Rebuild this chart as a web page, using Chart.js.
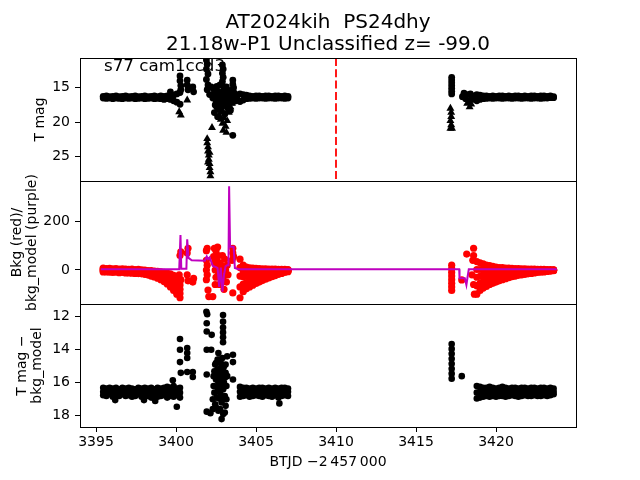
<!DOCTYPE html>
<html>
<head>
<meta charset="utf-8">
<script src="https://cdn.jsdelivr.net/npm/chart.js@4"></script>
<style>
  html, body { margin: 0; padding: 0; background: #fff; overflow: hidden; }
  #wrap { position: relative; width: 640px; height: 480px; }
  canvas { position: absolute; left: 0; top: 0; }
  .txt { position: absolute; font-family: "DejaVu Sans"; line-height: normal; white-space: pre; color: #000; }
  .ttl { font-size: 20px; }
  .ann { font-size: 16.7px; }
</style>
</head>
<body>
<div id="wrap">
  <canvas id="cTop" width="640" height="480"></canvas>
  <canvas id="cMid" width="640" height="480"></canvas>
  <canvas id="cBot" width="640" height="480"></canvas>
  <div class="txt ttl" style="left:328px; top:8.5px; transform:translateX(-50%)">AT2024kih  PS24dhy</div>
  <div class="txt ttl" style="left:328px; top:30.5px; transform:translateX(-50%)">21.18w-P1 Unclassified z= -99.0</div>
  <div class="txt ann" style="left:104px; top:55px">s77 cam1ccd3</div>
</div>
<script>
// axes
const timeMin = 3394, timeMax = 3425;
const timeTicks = [3395, 3400, 3405, 3410, 3415, 3420];
const tmagMin = 10.7, tmagMax = 28.52;
const tmagTicks = [15, 20, 25];
const bkgMin = -140.8, bkgMax = 368.5;
const bkgTicks = [0, 200];
const diffMin = 11.23, diffMax = 18.68;
const diffTicks = [12, 14, 16, 18];
const vlineX = 3410;

// sampling times of the three dense stretches
const timeA = [3395.45, 3395.65, 3395.85, 3396.05, 3396.25, 3396.45, 3396.65, 3396.85, 3397.05, 3397.25, 3397.45, 3397.65, 3397.85, 3398.05, 3398.25, 3398.45, 3398.65, 3398.85, 3399.05, 3399.25, 3399.45, 3399.65, 3399.85, 3400.05, 3400.25];
const timeB = [3404.0, 3404.2, 3404.4, 3404.6, 3404.8, 3405.0, 3405.2, 3405.4, 3405.6, 3405.8, 3406.0, 3406.2, 3406.4, 3406.6, 3406.8, 3407.0];
const timeC = [3418.8, 3419.0, 3419.2, 3419.4, 3419.6, 3419.8, 3420.0, 3420.2, 3420.4, 3420.6, 3420.8, 3421.0, 3421.2, 3421.4, 3421.6, 3421.8, 3422.0, 3422.2, 3422.4, 3422.6, 3422.8, 3423.0, 3423.2, 3423.4, 3423.6];

// T mag (top panel)
const tmagA_hi = [16.25, 16.2, 16.3, 16.25, 16.2, 16.3, 16.25, 16.2, 16.3, 16.25, 16.2, 16.3, 16.25, 16.2, 16.3, 16.25, 16.2, 16.3, 16.2, 16.25, 16.2, 16.3, 16.1, 15.9, 15.7];
const tmagA_lo = [16.5, 16.55, 16.5, 16.6, 16.5, 16.55, 16.6, 16.5, 16.55, 16.5, 16.6, 16.55, 16.5, 16.6, 16.55, 16.5, 16.6, 16.55, 16.6, 16.7, 16.6, 16.7, 16.9, 17.1, 17.4];
const tmagB_hi = [15.9, 16.0, 16.1, 16.2, 16.25, 16.2, 16.2, 16.25, 16.2, 16.2, 16.25, 16.2, 16.2, 16.25, 16.2, 16.25];
const tmagB_lo = [17.0, 16.8, 16.6, 16.55, 16.5, 16.55, 16.5, 16.5, 16.55, 16.5, 16.5, 16.55, 16.5, 16.5, 16.55, 16.5];
const tmagC_hi = [16.0, 16.1, 16.2, 16.2, 16.25, 16.2, 16.25, 16.2, 16.2, 16.25, 16.2, 16.25, 16.2, 16.2, 16.25, 16.2, 16.25, 16.2, 16.2, 16.25, 16.2, 16.2, 16.25, 16.2, 16.3];
const tmagC_lo = [16.9, 16.7, 16.6, 16.55, 16.5, 16.55, 16.5, 16.5, 16.55, 16.5, 16.5, 16.55, 16.5, 16.5, 16.55, 16.5, 16.5, 16.55, 16.5, 16.5, 16.55, 16.5, 16.5, 16.45, 16.45];
const tmagDots = [[3400.25,13.3],[3400.25,14.0],[3400.3,14.7],[3400.3,15.3],[3400.7,13.9],[3400.7,14.6],[3400.75,15.3],[3401.05,14.9],[3401.1,15.6],
  [3401.9,11.0],[3401.95,11.6],[3401.9,12.3],[3402.0,13.0],[3401.9,13.8],[3402.0,14.6],[3401.95,15.3],[3402.1,16.0],[3402.2,14.9],
  [3402.9,11.7],[3402.95,12.3],[3402.9,12.9],[3402.95,13.5],[3402.9,14.1],[3402.95,14.8],[3403.55,13.9],[3403.55,14.5],[3403.6,15.0],[3403.55,21.9],
  [3402.3,16.5],[3402.4,15.8],[3402.5,16.8],[3402.6,15.5],[3402.7,16.2],[3402.8,17.0],[3402.9,15.6],[3403.0,16.4],[3403.1,17.2],[3403.2,15.9],
  [3403.3,16.6],[3403.4,15.4],[3403.5,16.2],[3403.6,16.8],[3403.7,16.3],[3403.8,16.5],[3402.45,17.5],[3402.65,18.0],[3402.85,18.4],[3403.05,18.8],
  [3403.25,18.0],[3402.55,14.8],[3402.75,14.6],[3403.15,14.9],[3399.65,15.6],
  [3402.35,15.2],[3402.45,16.2],[3402.55,17.8],[3402.65,16.9],[3402.75,15.8],[3402.85,16.2],[3402.95,17.6],[3403.05,15.6],[3403.15,16.3],
  [3403.25,17.2],[3403.35,15.9],[3403.45,16.8],[3403.55,17.1],[3403.65,15.8],[3403.75,16.9],[3402.4,18.6],[3402.6,19.2],[3402.8,17.8],
  [3403.0,17.5],[3403.2,17.0],[3403.4,18.3],
  [3417.23,13.5],[3417.23,13.9],[3417.23,14.3],[3417.23,14.7],[3417.23,15.1],[3417.23,15.5],[3417.23,15.9],
  [3417.9,16.3],[3418.0,15.8],[3418.1,16.6],[3418.2,16.0],[3418.3,16.9],[3418.4,15.9],[3418.5,16.4],[3418.6,16.2],[3418.6,16.7]];
const tmagLimits = [[3400.2,18.5],[3400.3,19.0],[3400.7,16.8],[3402.25,20.8],[3401.95,22.4],[3401.95,23.0],[3402.0,23.6],[3402.0,24.2],
  [3402.05,24.8],[3402.05,25.4],[3402.1,26.0],[3402.1,26.6],[3402.15,27.2],[3402.15,27.8],[3402.0,25.8],[3402.1,24.4],
  [3402.5,17.2],[3402.6,18.3],[3402.7,19.0],[3402.8,19.6],[3402.9,20.2],[3403.0,19.4],[3403.1,20.6],[3403.2,19.8],[3403.3,18.6],
  [3403.4,17.8],[3403.5,17.3],[3402.95,21.2],[3403.15,21.5],
  [3417.15,18.0],[3417.2,18.6],[3417.2,19.2],[3417.15,19.8],[3417.2,20.4],[3417.15,20.9],[3417.25,20.9],[3418.2,17.3],[3418.35,17.8],[3418.45,17.4]];

// Bkg (middle panel, red) and bkg_model (purple)
const bkgA_hi = [8, 6, 7, 5, 6, 4, 5, 4, 3, 4, 2, 3, 1, 0, -2, -3, -5, -6, -8, -10, -13, -16, -22, -30, -45];
const bkgA_q1 = [4, 3, 3, 2, 2, 1, 1, 0, 0, -1, -2, -2, -3, -4, -6, -8, -10, -12, -15, -19, -23, -29, -37, -47, -62];
const bkgA_mid = [0, -1, 0, -2, -1, -3, -2, -4, -4, -5, -6, -6, -7, -8, -10, -13, -16, -19, -23, -28, -34, -42, -52, -65, -80];
const bkgA_q3 = [-4, -5, -4, -6, -5, -7, -6, -8, -8, -9, -10, -10, -11, -13, -15, -19, -22, -26, -31, -38, -46, -56, -68, -82, -97];
const bkgA_lo = [-8, -8, -9, -10, -9, -11, -10, -12, -12, -13, -14, -15, -16, -18, -21, -25, -29, -34, -40, -48, -58, -70, -85, -100, -115];
const bkgB_hi = [45, 20, 12, 9, 8, 7, 6, 5, 5, 4, 4, 4, 3, 3, 3, 2];
const bkgB_q1 = [10, -4, -7, -7, -6, -5, -5, -4, -3, -3, -2, -1, -1, 0, 0, 0];
const bkgB_mid = [-25, -28, -26, -24, -21, -18, -16, -14, -12, -10, -8, -6, -5, -4, -3, -2];
const bkgB_q3 = [-70, -58, -52, -47, -42, -37, -33, -29, -25, -21, -18, -14, -11, -9, -6, -4];
const bkgB_lo = [-115, -90, -78, -70, -63, -56, -50, -44, -38, -33, -28, -23, -18, -14, -10, -7];
const bkgC_hi = [35, 30, 25, 20, 18, 15, 12, 10, 10, 8, 8, 7, 6, 6, 5, 5, 4, 4, 4, 3, 3, 3, 2, 2, 1];
const bkgC_q1 = [2, 2, 1, 0, 0, 0, -1, -1, 0, 0, 0, 0, 0, 0, 0, 0, 0, 0, 0, 0, 0, 0, 0, 0, 0];
const bkgC_mid = [-30, -26, -22, -20, -18, -15, -13, -12, -10, -9, -8, -7, -6, -5, -5, -4, -4, -3, -3, -2, -2, -2, -1, -1, 0];
const bkgC_q3 = [-65, -55, -48, -44, -39, -35, -31, -28, -25, -22, -20, -17, -15, -13, -12, -11, -10, -8, -7, -6, -5, -5, -3, -3, -1];
const bkgC_lo = [-100, -85, -75, -68, -60, -55, -50, -45, -40, -36, -32, -28, -25, -22, -20, -18, -16, -14, -12, -10, -9, -8, -6, -5, -3];
const bkgDots = [[3400.25,60],[3400.3,75],[3400.2,-20],[3400.3,-40],[3400.7,70],[3400.75,90],[3400.7,-20],[3400.75,-45],[3401.05,-50],[3401.1,-35],
  [3401.9,80],[3401.95,90],[3401.9,40],[3401.95,20],[3401.9,0],[3401.95,-20],[3401.9,-40],[3402.0,-83],[3402.05,-110],[3402.3,-110],
  [3402.4,90],[3402.5,80],[3402.6,95],[3402.35,55],[3402.4,30],[3402.45,0],[3402.5,-30],[3402.55,40],[3402.6,10],[3402.65,-20],
  [3402.7,-60],[3402.75,30],[3402.8,-5],[3402.85,-45],[3402.9,60],[3402.9,15],[3402.95,-30],[3403.0,-80],[3403.05,45],[3403.1,0],
  [3403.15,-50],[3403.2,20],[3403.25,-20],[3402.45,-60],[3402.65,60],[3403.5,40],[3403.55,70],[3403.55,90],[3403.6,55],[3403.55,-95],
  [3417.23,20],[3417.23,5],[3417.23,-10],[3417.23,-25],[3417.23,-40],[3417.23,-55],[3417.23,-70],[3417.23,-85],[3417.86,-41],[3418.17,66],
  [3418.6,60],[3418.6,90],[3418.55,40],[3418.6,-60],[3418.65,-100],[3418.5,-20]];
const bkgModelT = [3395.3, 3400.2, 3400.28, 3400.33, 3400.65, 3400.7, 3400.78, 3400.98, 3401.8, 3401.92, 3402.0, 3402.1, 3402.2, 3402.3, 3402.5, 3402.6, 3402.7, 3402.8, 3402.9, 3403.0, 3403.1, 3403.2, 3403.28, 3403.32, 3403.38, 3403.6, 3403.68, 3403.9, 3417.7, 3417.72, 3418.05, 3418.15, 3418.22, 3418.3, 3423.8];
const bkgModelV = [3, 3, 145, 5, 5, 127, 50, 40, 38, 56, 45, 52, 35, 17, 12, 8, -70, 10, -90, -20, 15, 20, 20, 347, 96, 96, 8, 3, 3, -34, -34, -62, -30, 3, 3];

// T mag - bkg_model (bottom panel)
const diffA_hi = [16.3, 16.35, 16.3, 16.35, 16.3, 16.4, 16.3, 16.35, 16.3, 16.35, 16.4, 16.3, 16.35, 16.3, 16.35, 16.3, 16.4, 16.3, 16.35, 16.3, 16.25, 16.3, 16.2, 16.35, 16.3];
const diffA_mid = [16.55, 16.6, 16.5, 16.6, 16.55, 16.6, 16.5, 16.55, 16.55, 16.6, 16.6, 16.5, 16.6, 16.55, 16.55, 16.6, 16.55, 16.6, 16.55, 16.5, 16.6, 16.55, 16.5, 16.55, 16.6];
const diffA_lo = [16.75, 16.8, 16.7, 16.85, 16.75, 16.8, 16.7, 16.8, 16.75, 16.85, 16.8, 16.7, 16.85, 16.75, 16.8, 16.9, 16.75, 16.85, 16.8, 16.75, 16.9, 16.8, 16.85, 16.75, 16.9];
const diffB_hi = [16.25, 16.3, 16.3, 16.35, 16.3, 16.35, 16.3, 16.3, 16.35, 16.3, 16.35, 16.3, 16.35, 16.3, 16.3, 16.35];
const diffB_mid = [16.55, 16.55, 16.5, 16.6, 16.55, 16.5, 16.55, 16.6, 16.55, 16.55, 16.6, 16.5, 16.6, 16.55, 16.5, 16.55];
const diffB_lo = [16.85, 16.8, 16.75, 16.85, 16.8, 16.75, 16.8, 16.85, 16.75, 16.8, 16.85, 16.75, 16.9, 16.8, 16.75, 16.8];
const diffC_hi = [16.2, 16.25, 16.3, 16.3, 16.25, 16.3, 16.35, 16.3, 16.25, 16.3, 16.35, 16.3, 16.3, 16.35, 16.3, 16.3, 16.35, 16.3, 16.3, 16.35, 16.3, 16.3, 16.35, 16.3, 16.35];
const diffC_mid = [16.6, 16.55, 16.55, 16.55, 16.55, 16.55, 16.6, 16.55, 16.5, 16.6, 16.55, 16.5, 16.55, 16.6, 16.55, 16.5, 16.6, 16.55, 16.5, 16.6, 16.55, 16.5, 16.6, 16.5, 16.55];
const diffC_lo = [16.95, 16.9, 16.85, 16.8, 16.85, 16.8, 16.85, 16.8, 16.8, 16.85, 16.8, 16.75, 16.8, 16.85, 16.8, 16.75, 16.8, 16.8, 16.75, 16.8, 16.8, 16.75, 16.8, 16.75, 16.7];
const diffDots = [[3396.2,17.05],[3398.0,17.05],[3398.7,17.1],[3399.8,15.85],[3400.05,17.45],
  [3400.25,13.35],[3400.25,14.0],[3400.25,14.75],[3400.3,15.4],[3400.7,13.9],[3400.7,14.2],[3400.7,14.5],[3400.7,15.35],[3401.05,15.35],[3401.05,15.65],
  [3401.9,11.7],[3401.95,11.85],[3401.92,12.4],[3401.92,12.9],[3401.92,14.0],[3401.92,15.5],[3401.92,17.75],[3402.23,13.1],[3402.15,17.85],[3402.2,14.0],
  [3402.94,11.9],[3402.94,12.3],[3402.94,12.65],[3402.94,12.95],[3402.94,13.25],[3402.94,13.55],
  [3402.3,17.0],[3402.3,17.6],[3402.35,16.2],[3402.4,15.3],[3402.4,16.6],[3402.45,17.3],[3402.5,14.8],[3402.5,15.8],[3402.55,16.9],[3402.6,15.2],
  [3402.6,16.3],[3402.65,17.7],[3402.7,14.6],[3402.7,15.7],[3402.75,16.6],[3402.8,15.1],[3402.8,16.1],[3402.85,17.2],[3402.9,14.5],[3402.9,15.5],
  [3402.95,16.4],[3402.95,17.9],[3403.0,15.0],[3403.0,16.0],[3403.05,16.8],[3403.1,15.4],[3403.1,17.4],[3403.15,16.2],[3403.2,15.6],[3403.2,14.4],
  [3402.85,18.2],[3402.75,17.6],[3403.05,17.8],[3402.65,14.2],[3402.9,16.9],
  [3402.35,15.6],[3402.45,14.9],[3402.55,15.5],[3402.65,16.0],[3402.75,15.3],[3402.85,15.8],[3402.95,15.1],[3403.05,15.7],[3403.15,17.0],
  [3402.5,17.5],[3402.7,16.95],[3402.6,14.6],[3402.8,14.8],[3403.1,14.9],
  [3403.56,14.3],[3403.56,14.75],[3403.56,15.8],[3406.46,17.25],
  [3417.23,13.65],[3417.23,13.95],[3417.23,14.25],[3417.23,14.55],[3417.23,14.85],[3417.23,15.15],[3417.23,15.45],[3417.23,15.75],[3417.86,15.6]];

const pts = (ts, vs) => ts.map((t, i) => ({ x: t, y: vs[i] }));
const pairs = (list) => list.map(([x, y]) => ({ x, y }));

Chart.defaults.font.family = "'DejaVu Sans', sans-serif";
Chart.defaults.font.size = 14;
Chart.defaults.color = '#000';

// black box around each panel
const framePlugin = {
  id: 'frame',
  afterDraw(chart) {
    const { ctx, chartArea: a } = chart;
    ctx.save();
    ctx.strokeStyle = '#000';
    ctx.lineWidth = 1;
    ctx.strokeRect(Math.round(a.left) + 0.5, Math.round(a.top) + 0.5, Math.round(a.width), Math.round(a.height));
    ctx.restore();
  }
};

function dots(data, color, style, radius) {
  return {
    data, showLine: false, clip: 0, order: 1,
    pointStyle: style, pointRadius: radius, pointHoverRadius: radius,
    pointBackgroundColor: color, pointBorderWidth: 0
  };
}

function panel(id, o) {
  return new Chart(document.getElementById(id), {
    type: 'scatter',
    data: { datasets: o.datasets },
    options: {
      responsive: false,
      animation: false,
      events: [],
      layout: { padding: { top: o.padTop, bottom: o.padBottom, left: 0, right: 64 } },
      plugins: { legend: { display: false }, tooltip: { enabled: false } },
      scales: {
        x: {
          type: 'linear', min: timeMin, max: timeMax, display: o.showX,
          afterBuildTicks: (s) => { s.ticks = timeTicks.map((v) => ({ value: v })); },
          afterFit: (s) => { s.height = o.showX ? 44 : 0; },
          grid: { drawOnChartArea: false, tickLength: 5, tickColor: '#000', tickWidth: 1 },
          border: { display: false },
          ticks: { padding: 2, maxRotation: 0, autoSkip: false, color: '#000', callback: (v) => String(v) },
          title: { display: true, text: 'BTJD \u22122\u2009457\u2009000', color: '#000', padding: { top: 0, bottom: 0 }, font: { size: 14 } }
        },
        y: {
          type: 'linear', min: o.yMin, max: o.yMax, reverse: o.reverse,
          afterBuildTicks: (s) => { s.ticks = o.yTicks.map((v) => ({ value: v })); },
          afterFit: (s) => { s.width = 80; },
          grid: { drawOnChartArea: false, tickLength: 5, tickColor: '#000', tickWidth: 1 },
          border: { display: false },
          ticks: { padding: 5, autoSkip: false, color: '#000', callback: (v) => String(v) },
          title: { display: true, text: o.yTitle, color: '#000', font: { size: 14, lineHeight: 1.1 }, padding: { top: o.titlePad, bottom: 0 } }
        }
      }
    },
    plugins: [framePlugin]
  });
}

panel('cTop', {
  padTop: 58, padBottom: 299, showX: false,
  yMin: tmagMin, yMax: tmagMax, reverse: true, yTicks: tmagTicks,
  yTitle: 'T mag', titlePad: 32.3,
  datasets: [
    { data: [{ x: vlineX, y: tmagMin }, { x: vlineX, y: tmagMax }], showLine: true, pointRadius: 0,
      borderColor: '#ff0000', borderWidth: 1.8, borderDash: [8, 3.3], clip: 0, order: 0 },
    dots(pts(timeA, tmagA_hi).concat(pts(timeA, tmagA_lo), pts(timeB, tmagB_hi), pts(timeB, tmagB_lo),
      pts(timeC, tmagC_hi), pts(timeC, tmagC_lo), pairs(tmagDots)), '#000', 'circle', 3.4),
    dots(pairs(tmagLimits), '#000', 'triangle', 4.6)
  ]
});

panel('cMid', {
  padTop: 181, padBottom: 176, showX: false,
  yMin: bkgMin, yMax: bkgMax, reverse: false, yTicks: bkgTicks,
  yTitle: ['Bkg (red)/', 'bkg_model (purple)'], titlePad: 9.3,
  datasets: [
    { data: pts(bkgModelT, bkgModelV), showLine: true, pointRadius: 0, borderColor: '#bf00bf',
      borderWidth: 2, tension: 0, clip: 0, order: 0 },
    dots(pts(timeA, bkgA_hi).concat(pts(timeA, bkgA_q1), pts(timeA, bkgA_mid), pts(timeA, bkgA_q3), pts(timeA, bkgA_lo),
      pts(timeB, bkgB_hi), pts(timeB, bkgB_q1), pts(timeB, bkgB_mid), pts(timeB, bkgB_q3), pts(timeB, bkgB_lo),
      pts(timeC, bkgC_hi), pts(timeC, bkgC_q1), pts(timeC, bkgC_mid), pts(timeC, bkgC_q3), pts(timeC, bkgC_lo),
      pairs(bkgDots)), '#ff0000', 'circle', 3.6)
  ]
});

panel('cBot', {
  padTop: 304, padBottom: 9, showX: true,
  yMin: diffMin, yMax: diffMax, reverse: true, yTicks: diffTicks,
  yTitle: ['T mag \u2212', 'bkg_model'], titlePad: 14.3,
  datasets: [
    dots(pts(timeA, diffA_hi).concat(pts(timeA, diffA_mid), pts(timeA, diffA_lo), pts(timeB, diffB_hi), pts(timeB, diffB_mid),
      pts(timeB, diffB_lo), pts(timeC, diffC_hi), pts(timeC, diffC_mid), pts(timeC, diffC_lo), pairs(diffDots)), '#000', 'circle', 3.3)
  ]
});
</script>
</body>
</html>
